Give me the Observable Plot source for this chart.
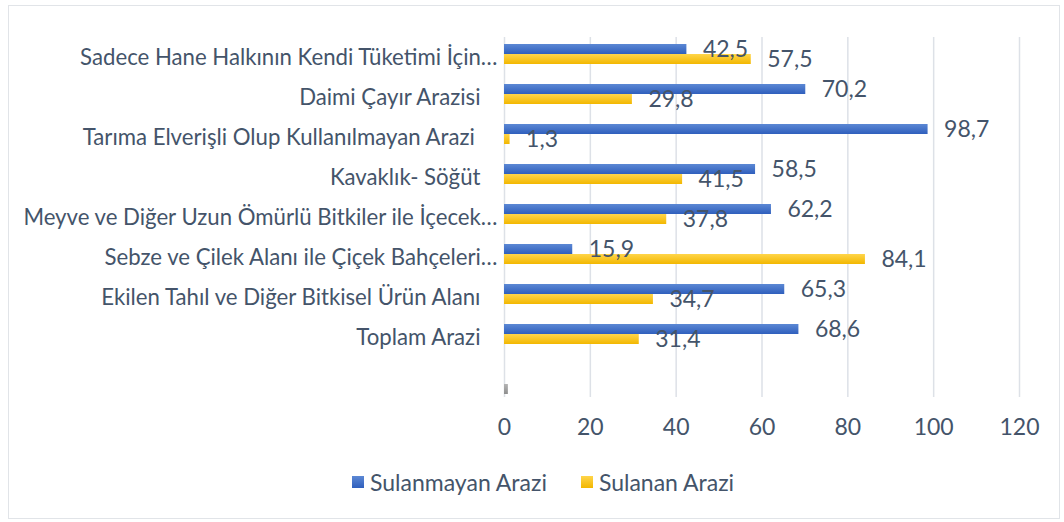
<!DOCTYPE html>
<html>
<head>
<meta charset="utf-8">
<script src="https://cdn.jsdelivr.net/npm/d3@7"></script>
<script src="https://cdn.jsdelivr.net/npm/@observablehq/plot@0.6"></script>
<style>
  html, body { margin: 0; padding: 0; background: #fff; }
  #wrap { position: relative; width: 1064px; height: 522px; overflow: hidden; font-family: Lato, "Open Sans", sans-serif; }
  #frame { position: absolute; left: 8px; top: 5px; width: 1052px; height: 514px; border: 1.5px solid #e1e4e8; box-sizing: border-box; }
  #chart { position: absolute; left: 0; top: 0; }
  #chart svg text { white-space: pre; }
  #chart svg g[aria-label^="fy-axis"] text { font-size: 22.2px; }
  #legend { position: absolute; top: 468px; left: 352px; display: flex; align-items: center; font-size: 23px; line-height: 28px; color: #44546A; }
  .item { display: flex; align-items: center; margin-right: 34px; }
  .sw { width: 12px; height: 12px; margin-right: 6px; }
</style>
</head>
<body>
<div id="wrap">
  <div id="frame"></div>
  <div id="chart"></div>
  <div id="legend"></div>
</div>
<script>
const categories = [
  "Sadece Hane Halkının Kendi Tüketimi İçin…",
  "Daimi Çayır Arazisi   ",
  "Tarıma Elverişli Olup Kullanılmayan Arazi    ",
  "Kavaklık- Söğüt   ",
  "Meyve ve Diğer Uzun Ömürlü Bitkiler ile İçecek…",
  "Sebze ve Çilek Alanı ile Çiçek Bahçeleri…",
  "Ekilen Tahıl ve Diğer Bitkisel Ürün Alanı   ",
  "Toplam Arazi   ",
  ""
];
const seriesNames = ["Sulanmayan Arazi", "Sulanan Arazi", "Seri 3"];
const sulanmayan = [42.5, 70.2, 98.7, 58.5, 62.2, 15.9, 65.3, 68.6, null];
const sulanan    = [57.5, 29.8, 1.3, 41.5, 37.8, 84.1, 34.7, 31.4, null];
const seri3      = [null, null, null, null, null, null, null, null, 0.9];
const xTicks = [0, 20, 40, 60, 80, 100, 120];

const seriesValues = [sulanmayan, sulanan, seri3];
const fills = ["url(#gBlue)", "url(#gYellow)", "url(#gGray)"];
const legendSeries = [0, 1];

const rows = [];
categories.forEach((c, i) => {
  seriesNames.forEach((s, j) => {
    const v = seriesValues[j][i];
    if (v != null) rows.push({category: c, series: s, value: v, si: j});
  });
});

const fmt = v => v.toFixed(1).replace(".", ",");

const barMarks = seriesNames.map((s, j) =>
  Plot.barX(rows.filter(d => d.si === j), {x: "value", y: "series", fy: "category", fill: fills[j]})
);

const chart = Plot.plot({
  width: 1064,
  height: 450,
  marginTop: 35,
  marginBottom: 52,
  marginLeft: 504,
  marginRight: 45,
  style: {fontFamily: "Lato, 'Open Sans', sans-serif", fontSize: "23px", color: "#44546A", background: "transparent"},
  x: {domain: [0, 120], ticks: xTicks, tickSize: 0, tickPadding: 21, tickFormat: d => String(d), label: null},
  y: {domain: seriesNames, axis: null, paddingInner: 0, paddingOuter: 0.333, align: 0.68},
  fy: {domain: categories, padding: 0, label: null, tickSize: 0, tickPadding: 7},
  marks: [
    Plot.ruleX(xTicks, {stroke: "#dde1e7", strokeWidth: 1.5}),
    ...barMarks,
    Plot.text(rows.filter(d => d.si < 2), {
      x: "value", y: "series", fy: "category",
      text: d => fmt(d.value), textAnchor: "start", dx: 16,
      fontSize: 23, fill: "#44546A"
    })
  ]
});

// gradients
const svg = d3.select(chart.tagName.toLowerCase() === "svg" ? chart : chart.querySelector("svg"));
const defs = svg.insert("defs", ":first-child");
const grads = [
  ["gBlue", "#5c88d4", "#2f5fbd"],
  ["gYellow", "#ffd54a", "#f2b700"],
  ["gGray", "#b4b4b4", "#8e8e8e"]
];
grads.forEach(([id, c0, c1]) => {
  const g = defs.append("linearGradient").attr("id", id).attr("x1", 0).attr("y1", 0).attr("x2", 0).attr("y2", 1);
  g.append("stop").attr("offset", "0%").attr("stop-color", c0);
  g.append("stop").attr("offset", "100%").attr("stop-color", c1);
});
document.getElementById("chart").appendChild(chart);

// legend
const legendColors = [["#5c88d4", "#2f5fbd"], ["#ffd54a", "#f2b700"]];
const lg = d3.select("#legend");
legendSeries.forEach(j => {
  const it = lg.append("div").attr("class", "item");
  it.append("div").attr("class", "sw")
    .style("background", `linear-gradient(180deg, ${legendColors[j][0]}, ${legendColors[j][1]})`);
  it.append("span").text(seriesNames[j]);
});
</script>
</body>
</html>
